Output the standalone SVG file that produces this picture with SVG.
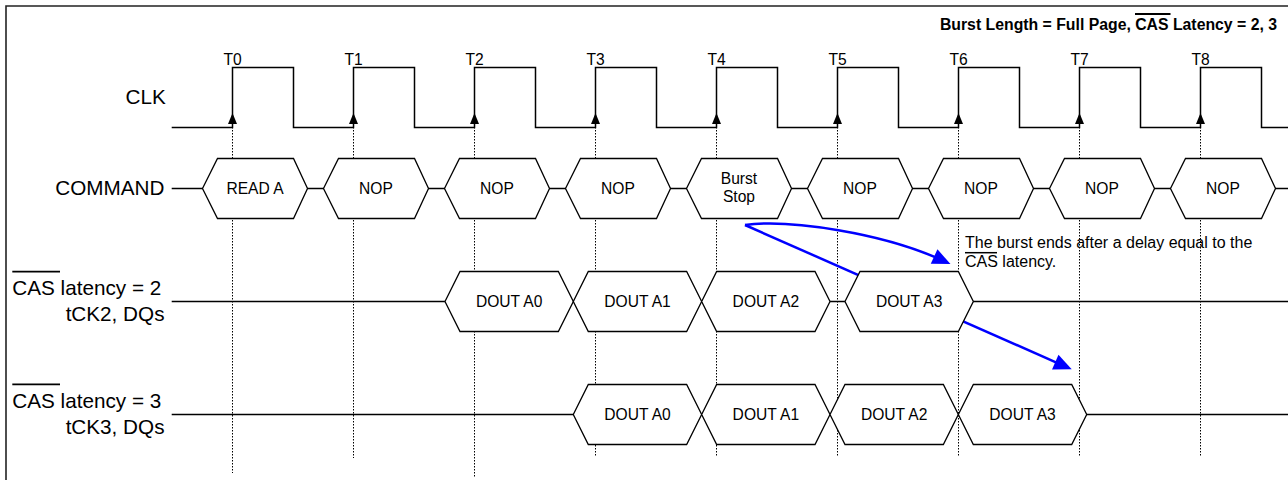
<svg xmlns="http://www.w3.org/2000/svg" xmlns:xlink="http://www.w3.org/1999/xlink" width="1288" height="480" viewBox="0 0 1288 480">
<style>
  text { font-family: "Liberation Sans", Arial, Helvetica, sans-serif; fill: #000; }
  .big { font-size: 20.7px; }
  .sm { font-size: 15.6px; }
  .mid { text-anchor: middle; }
  .end { text-anchor: end; }
  .title { font-size: 15.8px; font-weight: bold; text-anchor: end; }
  .hex { fill: #fff; stroke: #000; stroke-width: 1.3; stroke-linejoin: miter; }
  .sig { fill: none; stroke: #000; stroke-width: 1.3; }
  .clk { fill: none; stroke: #000; stroke-width: 1.5; }
  .grid { stroke: #000; stroke-width: 1; stroke-dasharray: 1.5 1.5; }
  .bar { stroke: #000; stroke-width: 1.8; }
  .conn { fill: none; stroke: #0000ff; stroke-width: 2.5; marker-end: url(#blueArrow); }
</style>
<defs>
  <marker id="blueArrow" markerUnits="userSpaceOnUse" markerWidth="20" markerHeight="17" refX="10" refY="8" orient="auto" overflow="visible">
    <path d="M0,0 L18,8 L0,16 Z" fill="#0000ff"/>
  </marker>
  <path id="clkArrow" d="M0,-14.5 L-4.5,-3.5 L4.5,-3.5 Z" fill="#000"/>
  <polygon id="cmdHex" points="0,0 15,-30 91,-30 105,0 91,30 15,30"/>
  <polygon id="dataHex" points="0,0 15,-30 113.35,-30 128.35,0 113.35,30 15,30"/>
</defs>
<rect x="0" y="0" width="1288" height="480" fill="#fff"/>
<path d="M6,481 V6 H1289" fill="none" stroke="#222" stroke-width="1.6"/>

<g id="grid">
  <line class="grid" x1="232.5" y1="124" x2="232.5" y2="473"/>
  <line class="grid" x1="353.5" y1="124" x2="353.5" y2="458"/>
  <line class="grid" x1="474.5" y1="124" x2="474.5" y2="477"/>
  <line class="grid" x1="595.5" y1="124" x2="595.5" y2="457"/>
  <line class="grid" x1="716.5" y1="124" x2="716.5" y2="457"/>
  <line class="grid" x1="837.5" y1="124" x2="837.5" y2="457"/>
  <line class="grid" x1="958.5" y1="124" x2="958.5" y2="457"/>
  <line class="grid" x1="1079.5" y1="124" x2="1079.5" y2="457"/>
  <line class="grid" x1="1200.5" y1="124" x2="1200.5" y2="457"/>
</g>

<g id="connectors">
  <path class="conn" d="M745,225 C790,219 883,233 943.2,260.7"/>
  <path class="conn" d="M745,225 L1064.4,366.1"/>
</g>

<g id="signal-lines">
  <line class="sig" x1="171.7" y1="188.5" x2="1289" y2="188.5"/>
  <line class="sig" x1="171.7" y1="301.5" x2="1289" y2="301.5"/>
  <line class="sig" x1="171.7" y1="414.5" x2="1289" y2="414.5"/>
</g>

<g id="clock">
  <path class="clk" d="M171.7,127.5 H232.5 V67.5 H293.5 V127.5 H353.5 V67.5 H414.5 V127.5 H474.5 V67.5 H535.5 V127.5 H595.5 V67.5 H656.5 V127.5 H716.5 V67.5 H777.5 V127.5 H837.5 V67.5 H898.5 V127.5 H958.5 V67.5 H1019.5 V127.5 H1079.5 V67.5 H1140.5 V127.5 H1200.5 V67.5 H1261.5 V127.5 H1290"/>
  <use xlink:href="#clkArrow" x="232.5" y="127.5"/>
  <use xlink:href="#clkArrow" x="353.5" y="127.5"/>
  <use xlink:href="#clkArrow" x="474.5" y="127.5"/>
  <use xlink:href="#clkArrow" x="595.5" y="127.5"/>
  <use xlink:href="#clkArrow" x="716.5" y="127.5"/>
  <use xlink:href="#clkArrow" x="837.5" y="127.5"/>
  <use xlink:href="#clkArrow" x="958.5" y="127.5"/>
  <use xlink:href="#clkArrow" x="1079.5" y="127.5"/>
  <use xlink:href="#clkArrow" x="1200.5" y="127.5"/>
  <text class="sm mid" x="232.5" y="65">T0</text>
  <text class="sm mid" x="353.5" y="65">T1</text>
  <text class="sm mid" x="474.5" y="65">T2</text>
  <text class="sm mid" x="595.5" y="65">T3</text>
  <text class="sm mid" x="716.5" y="65">T4</text>
  <text class="sm mid" x="837.5" y="65">T5</text>
  <text class="sm mid" x="958.5" y="65">T6</text>
  <text class="sm mid" x="1079.5" y="65">T7</text>
  <text class="sm mid" x="1200.5" y="65">T8</text>
</g>

<g id="cmd-read-a" transform="translate(202.5,188.5)"><use xlink:href="#cmdHex" class="hex"/><text class="sm mid" x="52.5" y="5.5">READ A</text></g>
<g id="cmd-nop-t1" transform="translate(323.5,188.5)"><use xlink:href="#cmdHex" class="hex"/><text class="sm mid" x="52.5" y="5.5">NOP</text></g>
<g id="cmd-nop-t2" transform="translate(444.5,188.5)"><use xlink:href="#cmdHex" class="hex"/><text class="sm mid" x="52.5" y="5.5">NOP</text></g>
<g id="cmd-nop-t3" transform="translate(565.5,188.5)"><use xlink:href="#cmdHex" class="hex"/><text class="sm mid" x="52.5" y="5.5">NOP</text></g>
<g id="cmd-burst-stop" transform="translate(686.5,188.5)"><use xlink:href="#cmdHex" class="hex"/><text class="sm mid" x="52.5" y="-5">Burst</text><text class="sm mid" x="52.5" y="13.4">Stop</text></g>
<g id="cmd-nop-t5" transform="translate(807.5,188.5)"><use xlink:href="#cmdHex" class="hex"/><text class="sm mid" x="52.5" y="5.5">NOP</text></g>
<g id="cmd-nop-t6" transform="translate(928.5,188.5)"><use xlink:href="#cmdHex" class="hex"/><text class="sm mid" x="52.5" y="5.5">NOP</text></g>
<g id="cmd-nop-t7" transform="translate(1049.5,188.5)"><use xlink:href="#cmdHex" class="hex"/><text class="sm mid" x="52.5" y="5.5">NOP</text></g>
<g id="cmd-nop-t8" transform="translate(1170.5,188.5)"><use xlink:href="#cmdHex" class="hex"/><text class="sm mid" x="52.5" y="5.5">NOP</text></g>

<g id="cl2-dout-a0" transform="translate(445,301.5)"><use xlink:href="#dataHex" class="hex"/><text class="sm mid" x="64.2" y="5.5">DOUT A0</text></g>
<g id="cl2-dout-a1" transform="translate(573.3,301.5)"><use xlink:href="#dataHex" class="hex"/><text class="sm mid" x="64.2" y="5.5">DOUT A1</text></g>
<g id="cl2-dout-a2" transform="translate(701.65,301.5)"><use xlink:href="#dataHex" class="hex"/><text class="sm mid" x="64.2" y="5.5">DOUT A2</text></g>
<g id="cl2-dout-a3" transform="translate(845,301.5)"><use xlink:href="#dataHex" class="hex"/><text class="sm mid" x="64.2" y="5.5">DOUT A3</text></g>

<g id="cl3-dout-a0" transform="translate(573.3,414.5)"><use xlink:href="#dataHex" class="hex"/><text class="sm mid" x="64.2" y="5.5">DOUT A0</text></g>
<g id="cl3-dout-a1" transform="translate(701.65,414.5)"><use xlink:href="#dataHex" class="hex"/><text class="sm mid" x="64.2" y="5.5">DOUT A1</text></g>
<g id="cl3-dout-a2" transform="translate(830,414.5)"><use xlink:href="#dataHex" class="hex"/><text class="sm mid" x="64.2" y="5.5">DOUT A2</text></g>
<g id="cl3-dout-a3" transform="translate(958.35,414.5)"><use xlink:href="#dataHex" class="hex"/><text class="sm mid" x="64.2" y="5.5">DOUT A3</text></g>

<g id="labels">
  <text class="big end" x="165.7" y="104.3">CLK</text>
  <text class="big end" x="164.5" y="195">COMMAND</text>
  <text class="big" x="12.3" y="295">CAS latency = 2</text>
  <line class="bar" x1="12.3" y1="271.7" x2="60" y2="271.7"/>
  <text class="big end" x="164.5" y="321">tCK2, DQs</text>
  <text class="big" x="12.3" y="408">CAS latency = 3</text>
  <line class="bar" x1="12.3" y1="384.3" x2="60" y2="384.3"/>
  <text class="big end" x="164.5" y="433.5">tCK3, DQs</text>
</g>

<g id="title">
  <text class="title" x="1277" y="30">Burst Length = Full Page, CAS Latency = 2, 3</text>
  <line class="bar" x1="1135" y1="14" x2="1170.5" y2="14"/>
</g>

<g id="annotation">
  <text style="font-size:16px" x="965" y="248.3">The burst ends after a delay equal to the</text>
  <text style="font-size:16px" x="965" y="266.5">CAS latency.</text>
  <line x1="965" y1="252.7" x2="997" y2="252.7" stroke="#000" stroke-width="1.5"/>
</g>
</svg>
